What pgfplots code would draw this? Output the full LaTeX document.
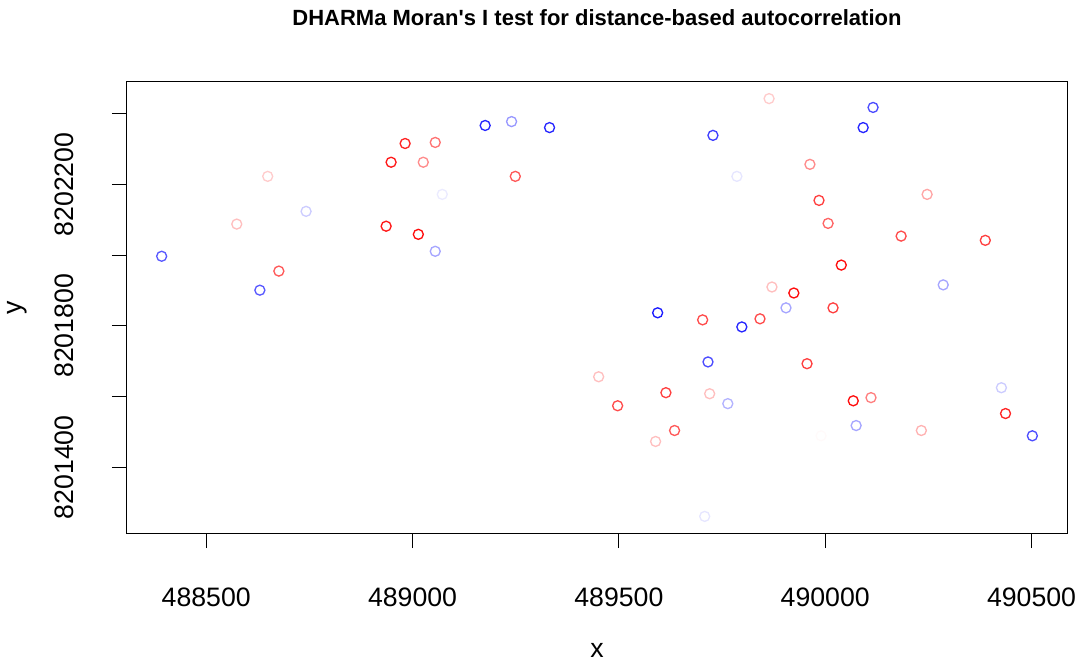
\documentclass[border=0pt]{standalone}
\usepackage{pgfplots}
\pgfplotsset{compat=1.18}
\usepackage{pgfplotstable}
\usepackage{fontspec}
\setmainfont{Liberation Sans}

% Sites (projected coordinates) and scaled residual r in [0,1]
\pgfplotstableread{
x y r
488392 8201997 0.825
488574 8202088 0.375
488649 8202223 0.40
488742 8202124 0.60
488630 8201901 0.825
488676 8201955 0.175
488936 8202082 0.05
488948 8202263 0.05
488982 8202316 0.075
489026 8202263 0.275
489055 8202319 0.225
489014 8202059 0.025
489055 8202011 0.675
489072 8202172 0.54
489176 8202367 0.925
489240 8202378 0.70
489332 8202361 0.925
489249 8202223 0.175
489728 8202339 0.875
489786 8202223 0.55
489864 8202443 0.40
489963 8202257 0.275
489985 8202155 0.125
490007 8202090 0.20
490039 8201972 0.025
490116 8202418 0.85
490092 8202361 0.925
490247 8202172 0.325
490184 8202054 0.15
490388 8202042 0.125
490286 8201916 0.675
489871 8201910 0.375
489924 8201893 0.025
489905 8201851 0.675
490019 8201851 0.125
489594 8201837 0.95
489703 8201817 0.15
489798 8201797 0.925
489842 8201820 0.15
489716 8201698 0.85
489956 8201693 0.125
489451 8201656 0.375
489497 8201574 0.15
489614 8201611 0.125
489720 8201608 0.375
489764 8201580 0.65
489635 8201504 0.175
489589 8201473 0.375
489990 8201489 0.49
490075 8201518 0.675
490068 8201588 0.025
490111 8201597 0.25
490233 8201504 0.35
490427 8201625 0.60
490437 8201552 0.075
490502 8201489 0.85
489708 8201261 0.55
}\sites

\begin{document}
\begin{tikzpicture}
\path[use as bounding box] (-95.25pt,-98.25pt) rectangle (715.5pt,399.75pt);
\begin{axis}[
  at={(0pt,0pt)}, anchor=south west,
  scale only axis, width=705pt, height=338.25pt,
  % integer offsets keep full precision for the large UTM values
  x coord trafo/.code={\edef\pgfmathresult{\the\numexpr#1-488000\relax}},
  y coord trafo/.code={\edef\pgfmathresult{\the\numexpr#1-8201000\relax}},
  xmin=488308, xmax=490586, ymin=8201214, ymax=8202490,
  enlargelimits=false, scaled ticks=false,
  axis line style={line width=0.75pt, black},
  xtick pos=bottom, ytick pos=left,
  tick align=outside, major tick length=11.25pt,
  major tick style={line width=0.75pt, black},
  xtick={488500,489000,489500,490000,490500},
  xticklabels={488500,489000,489500,490000,490500},
  ytick={8201400,8201600,8201800,8202000,8202200,8202400},
  yticklabels={8201400,{},8201800,{},8202200,{}},
  /pgf/number format/assume math mode=true,
  tick label style={font=\fontsize{20}{24}\selectfont, inner sep=0pt},
  xticklabel style={anchor=north},
  xticklabel shift=30pt,
  yticklabel style={rotate=90, anchor=south},
  yticklabel shift=28.5pt,
  every axis title/.style={at={(0.5,1)}, anchor=center, yshift=48pt,
    font=\fontsize{16.5}{20}\selectfont\bfseries},
  every axis x label/.style={at={(0.5,0)}, anchor=center, yshift=-87.75pt,
    font=\fontsize{20}{24}\selectfont},
  every axis y label/.style={at={(0,0.5)}, xshift=-82pt, rotate=90, anchor=center,
    font=\fontsize{20}{24}\selectfont},
  title={DHARMa Moran\textquotesingle s I test for distance-based autocorrelation},
  xlabel={x}, ylabel={y},
  colormap={rwb}{rgb255=(255,0,0) rgb255=(255,255,255) rgb255=(0,0,255)},
  point meta min=0, point meta max=1,
]
\addplot[
  scatter, only marks, mark=o, mark size=3.75pt,
  mark options={line width=1pt},
  scatter/use mapped color={draw=mapped color, fill=none},
  point meta=\thisrow{r},
] table[x=x, y=y] {\sites};
\end{axis}
\end{tikzpicture}
\end{document}
